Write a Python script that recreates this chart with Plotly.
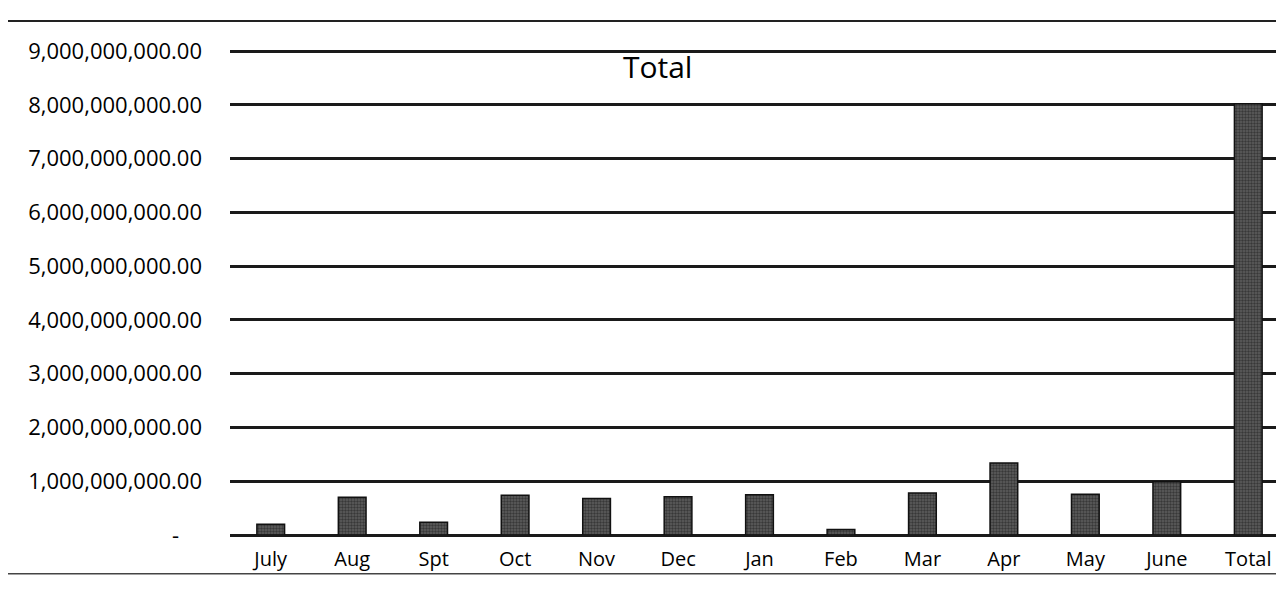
import plotly.graph_objects as go

months = ["July", "Aug", "Spt", "Oct", "Nov", "Dec", "Jan", "Feb", "Mar", "Apr", "May", "June", "Total"]
totals = [0.20e9, 0.70e9, 0.235e9, 0.74e9, 0.68e9, 0.71e9, 0.75e9, 0.10e9, 0.78e9, 1.34e9, 0.76e9, 0.99e9, 8.02e9]

tick_vals = [0, 1e9, 2e9, 3e9, 4e9, 5e9, 6e9, 7e9, 8e9, 9e9]
tick_text = ["-\u00a0\u00a0\u00a0\u00a0"] + ["{:,.2f}".format(v) for v in tick_vals[1:]]

fig = go.Figure(go.Bar(
    x=months,
    y=totals,
    width=0.34,
    marker=dict(
        color="#5e5e5e",
        pattern=dict(shape=".", fgcolor="#111111", size=3, solidity=0.5),
        line=dict(color="#111111", width=1.5),
    ),
))

fig.update_layout(
    width=1284, height=595,
    paper_bgcolor="white", plot_bgcolor="white",
    margin=dict(l=222, r=3, t=42, b=68),
    font=dict(family="Open Sans", color="#000"),
    title=dict(text="Total", x=0.506, xanchor="center", y=0.9, yanchor="middle",
               font=dict(size=30, color="#000")),
    showlegend=False,
    shapes=[
        dict(type="line", xref="paper", yref="paper", x0=-0.21, x1=1.003, y0=1.06, y1=1.06,
             line=dict(color="#222", width=2)),
        dict(type="line", xref="paper", yref="paper", x0=-0.21, x1=1.003, y0=-0.08, y1=-0.08,
             line=dict(color="#444", width=1.5)),
    ],
)

fig.update_xaxes(
    showgrid=False, showline=False, ticks="",
    tickfont=dict(size=20, color="#000"),
    ticklabelstandoff=10,
)
fig.update_yaxes(
    range=[0, 9.02e9],
    tickvals=tick_vals, ticktext=tick_text,
    showgrid=True, gridcolor="#1a1a1a", gridwidth=2.5,
    zeroline=True, zerolinecolor="#1a1a1a", zerolinewidth=2.5,
    tickfont=dict(size=22, color="#000"),
    ticklabelstandoff=27,
)

fig.write_html("out.html")
